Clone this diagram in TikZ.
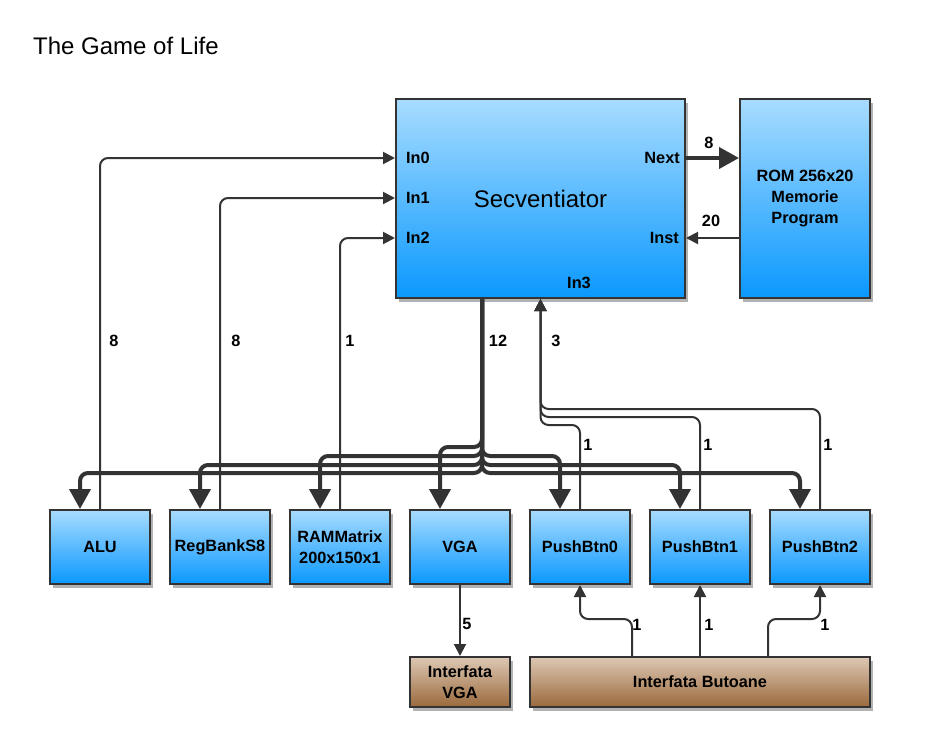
\documentclass[tikz,border=0pt]{standalone}
\usepackage{fontspec}
\setmainfont{Liberation Sans}
\usetikzlibrary{arrows.meta,shadows}
\definecolor{edge}{HTML}{333333}
\definecolor{blutop}{HTML}{A8DCFF}
\definecolor{blubot}{HTML}{0A98FE}
\definecolor{brntop}{HTML}{DDC8B4}
\definecolor{brnbot}{HTML}{9A693C}
\newcommand{\lfont}{\fontsize{16.3}{21}\selectfont\bfseries}
\tikzset{
  box/.style={draw=edge,line width=2pt,inner sep=0pt,align=center,font=\lfont,
    drop shadow={shadow xshift=3pt,shadow yshift=-4pt,fill=black!30,opacity=1}},
  blk/.style={box,top color=blutop,bottom color=blubot},
  brn/.style={box,top color=brntop,bottom color=brnbot},
  ln/.style={draw=edge,line width=2pt,rounded corners=8pt,-{Triangle[length=12pt,width=12pt]}},
  bus/.style={draw=edge,line width=4pt,rounded corners=8pt,-{Triangle[length=20pt,width=21pt]}},
  lbl/.style={font=\lfont,inner sep=0pt}
}

\begin{document}
\begin{tikzpicture}[x=1pt,y=-1pt]
\useasboundingbox (0,0) rectangle (935,747);
\node[anchor=west,inner sep=0pt,font=\fontsize{24}{27}\selectfont] (title) at (33,46) {The Game of Life};

\node[blk,minimum width=289,minimum height=199] (sec) at (540.5,198.5) {};
\node[inner sep=0pt,font=\fontsize{24}{27}\selectfont] (secname) at (540.5,199) {Secventiator};
\node[blk,minimum width=130,minimum height=199] (rom) at (805,198.5) {ROM 256x20\\Memorie\\Program};
\node[lbl,anchor=west] (in0) at (406,158) {In0};
\node[lbl,anchor=west] (in1) at (406,198) {In1};
\node[lbl,anchor=west] (in2) at (406,238) {In2};
\node[lbl] (in3) at (579,283) {In3};
\node[lbl,anchor=east] (next) at (680,158) {Next};
\node[lbl,anchor=east] (inst) at (679,238) {Inst};

\node[blk,minimum width=100,minimum height=74] (alu) at (100,547) {ALU};
\node[blk,minimum width=100,minimum height=74] (reg) at (220,547) {RegBankS8};
\node[blk,minimum width=100,minimum height=74] (ram) at (340,547) {RAMMatrix\\200x150x1};
\node[blk,minimum width=100,minimum height=74] (vga) at (460,547) {VGA};
\node[blk,minimum width=100,minimum height=74] (pb0) at (580,547) {PushBtn0};
\node[blk,minimum width=100,minimum height=74] (pb1) at (700,547) {PushBtn1};
\node[blk,minimum width=100,minimum height=74] (pb2) at (820,547) {PushBtn2};
\node[brn,minimum width=100,minimum height=50] (ivga) at (460,682) {Interfata\\VGA};
\node[brn,minimum width=340,minimum height=50] (ibtn) at (700,682) {Interfata Butoane};

\draw[bus] (sec.east |- next) -- (rom.west |- next);
\draw[ln] (rom.west |- inst) -- (sec.east |- inst);
\draw[ln] (alu.north) |- (sec.west |- in0);
\draw[ln] (reg.north) |- (sec.west |- in1);
\draw[ln] (ram.north) |- (sec.west |- in2);

\coordinate (bus) at ([xshift=-58.5pt]sec.south);
\draw[bus] (bus) -- ++(0,148) -| ([xshift=-20pt]vga.north);
\draw[bus] (bus) -- ++(0,157) -| ([xshift=-20pt]ram.north);
\draw[bus] (bus) -- ++(0,166) -| ([xshift=-20pt]reg.north);
\draw[bus] (bus) -- ++(0,174) -| ([xshift=-20pt]alu.north);
\draw[bus] (bus) -- ++(0,157) -| ([xshift=-20pt]pb0.north);
\draw[bus] (bus) -- ++(0,166) -| ([xshift=-20pt]pb1.north);
\draw[bus] (bus) -- ++(0,174) -| ([xshift=-20pt]pb2.north);

\draw[ln] (pb0.north) -- ++(0,-84) -| (sec.south);
\draw[ln] (pb1.north) -- ++(0,-92) -| (sec.south);
\draw[ln] (pb2.north) -- ++(0,-100) -| (sec.south);

\draw[ln] (vga.south) -- (ivga.north);
\draw[ln] ([xshift=-68pt]ibtn.north) -- ++(0,-37) -| (pb0.south);
\draw[ln] (ibtn.north) -- (pb1.south);
\draw[ln] ([xshift=68pt]ibtn.north) -- ++(0,-37) -| (pb2.south);

\node[lbl] (w0) at (114,341) {8};
\node[lbl] (w1) at (236,341) {8};
\node[lbl] (w2) at (350,341) {1};
\node[lbl] (wbus) at (498,341) {12};
\node[lbl] (win3) at (556,341) {3};
\node[lbl] (wb0) at (588,445) {1};
\node[lbl] (wb1) at (708,445) {1};
\node[lbl] (wb2) at (828,445) {1};
\node[lbl] (wnext) at (709,143) {8};
\node[lbl] (winst) at (711,221) {20};
\node[lbl] (wvga) at (467,624) {5};
\node[lbl] (wi0) at (637,625) {1};
\node[lbl] (wi1) at (709,625) {1};
\node[lbl] (wi2) at (825,625) {1};
\end{tikzpicture}
\end{document}
